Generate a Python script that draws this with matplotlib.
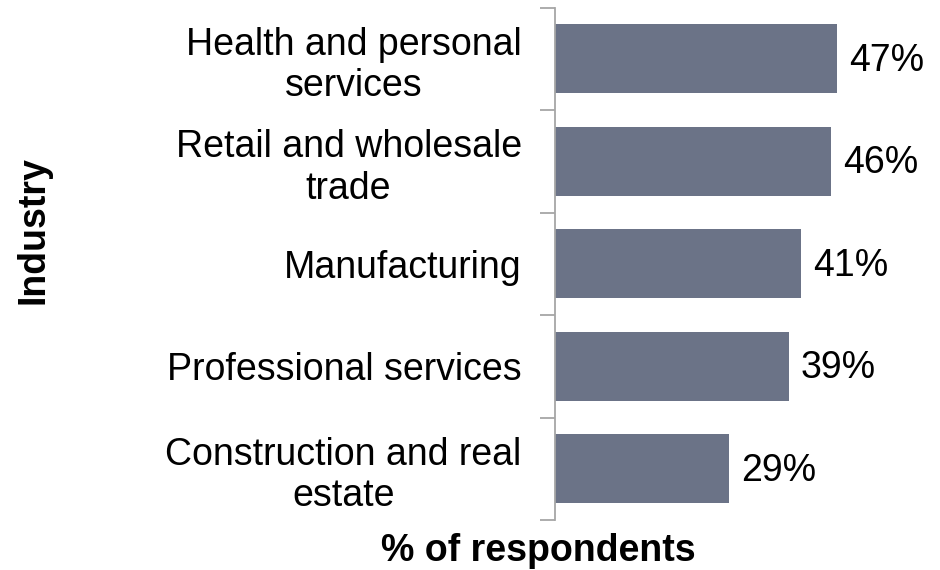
import matplotlib.pyplot as plt
import numpy as np

plt.rcParams['font.family'] = ['Liberation Sans', 'DejaVu Sans']

# Share of respondents by industry, top to bottom
industries = ['Health and personal\nservices',
              'Retail and wholesale\ntrade',
              'Manufacturing',
              'Professional services',
              'Construction and real\nestate']
shares = [47, 46, 41, 39, 29]

bar_color = '#6b7387'
axis_color = '#a6a6a6'

fig = plt.figure(figsize=(9.4, 5.7), dpi=100)
ax = fig.add_axes([555 / 940, 50 / 570, 360 / 940, 512.5 / 570])

y = np.arange(len(industries))
ax.barh(y, shares, height=0.67, color=bar_color)

# value labels at the end of each bar
for yi, v in zip(y, shares):
    ax.text(v + 2, yi + 0.02, f'{v}%', va='center', ha='left', fontsize=27)

ax.set_xlim(0, 60)
ax.set_ylim(len(industries) - 0.5, -0.5)

# tick marks sit between categories, labels at the centres
ax.set_yticks(np.arange(len(industries) + 1) - 0.5)
ax.set_yticklabels([])
ax.set_yticks(y, minor=True)
ax.set_yticklabels(industries, minor=True, fontsize=27,
                   multialignment='center', linespacing=1.2)
ax.tick_params(axis='y', which='major', length=11, width=1.3,
               color=axis_color, direction='out')
ax.tick_params(axis='y', which='minor', length=0, pad=24)

ax.set_xticks([])
for side in ['top', 'right', 'bottom']:
    ax.spines[side].set_visible(False)
ax.spines['left'].set_color(axis_color)
ax.spines['left'].set_linewidth(1.3)

fig.text(538 / 940, 1 / 570, '% of respondents', ha='center', va='bottom',
         fontsize=27, fontweight='bold')
fig.text(33 / 940, 1 - 230 / 570, 'Industry', rotation=90, ha='center',
         va='center', fontsize=27, fontweight='bold')

fig.savefig('out.png', dpi=100)
